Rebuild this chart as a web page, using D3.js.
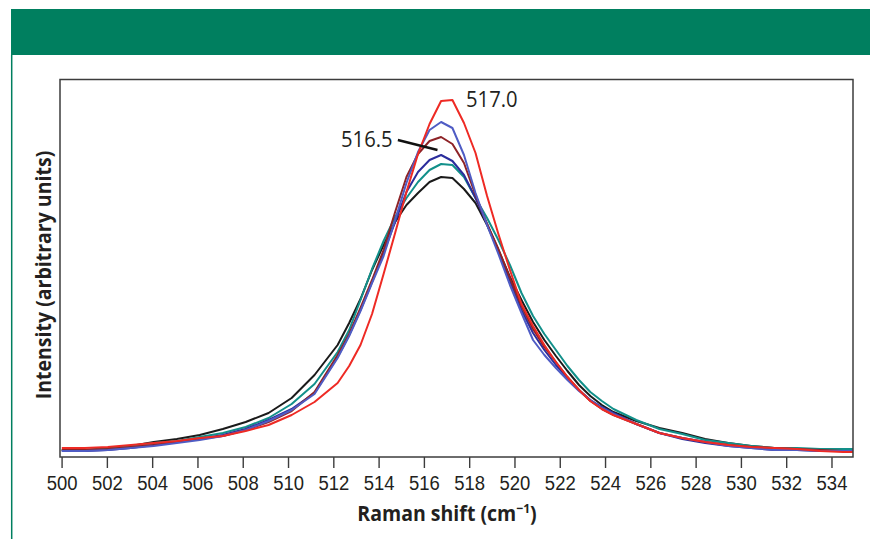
<!DOCTYPE html>
<html>
<head>
<meta charset="utf-8">
<script src="https://cdn.jsdelivr.net/npm/d3@7"></script>
<style>
  body { margin: 0; background: #fff; }
  svg { display: block; font-family: 'Open Sans', 'DejaVu Sans', sans-serif; }
  .tick text { font-size: 21px; fill: #231f20; }
  .tick line { stroke: #3c3c3c; stroke-width: 1.4; }
</style>
</head>
<body>
<svg id="chart" width="870" height="539"></svg>
<script>
// Raman shift (cm-1) sample positions
const shift = [
  500.01, 501.03, 502.04, 503.06, 504.07, 505.09, 506.10, 507.12, 508.13, 509.14,
  510.16, 511.17, 512.19, 512.70, 513.20, 513.71, 514.22, 514.73, 515.23, 515.74,
  516.25, 516.76, 517.26, 517.77, 518.28, 518.79, 519.29, 519.80, 520.31, 520.82,
  521.32, 521.83, 522.34, 522.85, 523.35, 523.86, 524.37, 525.38, 526.40, 527.41,
  528.42, 529.44, 530.45, 531.47, 532.48, 533.50, 534.51, 535.53
]

// intensities, arbitrary units
const blackSeries = [
  7, 7, 9, 11, 15, 18, 22, 28, 35, 44, 59, 82, 112, 134, 158, 187, 212, 235, 252, 264,
  275, 280, 279, 268, 254, 232, 207, 180, 157, 135, 117, 101, 86, 72, 61, 52, 45, 36, 29, 24,
  18, 14, 11, 9, 8, 7, 7, 7
]
const tealSeries = [
  7, 7, 8, 11, 14, 16, 20, 24, 30, 39, 53, 73, 105, 127, 157, 188, 216, 240, 259, 275,
  287, 293, 292, 280, 259, 239, 217, 192, 164, 141, 123, 107, 91, 77, 65, 56, 48, 37, 28, 23,
  17, 14, 11, 9, 9, 8, 8, 8
]
const darkBlueSeries = [
  6, 6, 7, 9, 12, 15, 18, 22, 28, 37, 48, 64, 100, 122, 147, 175, 204, 235, 265, 285,
  297, 302, 296, 282, 259, 233, 206, 176, 147, 124, 107, 92, 79, 67, 57, 50, 44, 33, 24, 18,
  14, 11, 9, 7, 7, 6, 6, 6
]
const brownSeries = [
  7, 7, 8, 10, 12, 15, 18, 21, 27, 35, 46, 65, 102, 123, 149, 177, 207, 245, 280, 303,
  316, 320, 313, 294, 262, 233, 208, 179, 151, 128, 110, 95, 80, 67, 56, 48, 42, 33, 24, 19,
  15, 12, 10, 9, 8, 7, 6, 6
]
const lightBlueSeries = [
  6, 6, 7, 9, 11, 14, 17, 21, 27, 36, 47, 63, 99, 121, 146, 174, 201, 237, 274, 305,
  327, 335, 329, 302, 264, 232, 203, 172, 144, 117, 102, 89, 77, 66, 57, 49, 43, 33, 24, 19,
  15, 11, 9, 7, 7, 6, 6, 6
]
const redSeries = [
  9, 9, 10, 12, 14, 16, 19, 21, 26, 32, 42, 55, 74, 91, 112, 143, 183, 224, 265, 303,
  333, 356, 357, 334, 304, 261, 223, 187, 153, 131, 112, 95, 80, 67, 56, 48, 42, 33, 24, 19,
  15, 12, 10, 9, 8, 6, 5, 5
]

const xTicks = [500, 502, 504, 506, 508, 510, 512, 514, 516, 518, 520, 522, 524, 526, 528, 530, 532, 534]

const series = [
  { values: blackSeries, color: '#1a1a1a' },
  { values: tealSeries, color: '#12908a' },
  { values: darkBlueSeries, color: '#2b2d9c' },
  { values: brownSeries, color: '#8e2327' },
  { values: lightBlueSeries, color: '#4f5cc4' },
  { values: redSeries, color: '#ee2a24' }
]

// peak labels, placed in data space
const peakLabels = [
  { text: '517.0', x: 517.86, y: 350, anchor: 'start' },
  { text: '516.5', x: 514.62, y: 310, anchor: 'end' }
]
const pointer = [[514.85, 317], [516.6, 307]]

const GREEN = '#007f5f'
const svg = d3.select('#chart')

const margin = { top: 79.5, right: 17, bottom: 82, left: 60 }
const width = 870
const height = 539

// header band + side rule
svg.append('rect')
  .attr('x', 11).attr('y', 9)
  .attr('width', width - 11).attr('height', 46)
  .attr('fill', GREEN)
svg.append('line')
  .attr('x1', 11.7).attr('x2', 11.7)
  .attr('y1', 55).attr('y2', height)
  .attr('stroke', GREEN).attr('stroke-width', 1.5)

const x = d3.scaleLinear()
  .domain([499.93, 534.95])
  .range([margin.left, width - margin.right])

const y = d3.scaleLinear()
  .domain([0, 377.5])
  .range([height - margin.bottom, margin.top])

svg.append('clipPath').attr('id', 'plot-clip')
  .append('rect')
  .attr('x', x.range()[0]).attr('y', y.range()[1])
  .attr('width', x.range()[1] - x.range()[0])
  .attr('height', y.range()[0] - y.range()[1])

const line = d3.line()
  .x((d, i) => x(shift[i]))
  .y(d => y(d))

svg.append('g')
  .attr('clip-path', 'url(#plot-clip)')
  .selectAll('path')
  .data(series)
  .enter().append('path')
  .attr('d', d => line(d.values))
  .attr('fill', 'none')
  .attr('stroke', d => d.color)
  .attr('stroke-width', 2)
  .attr('stroke-linejoin', 'round')

// frame
svg.append('rect')
  .attr('x', x.range()[0]).attr('y', y.range()[1])
  .attr('width', x.range()[1] - x.range()[0])
  .attr('height', y.range()[0] - y.range()[1])
  .attr('fill', 'none')
  .attr('stroke', '#3c3c3c')
  .attr('stroke-width', 1.5)

const xAxis = svg.append('g')
  .attr('transform', `translate(0, ${y.range()[0]})`)
  .call(d3.axisBottom(x).tickValues(xTicks).tickSize(11).tickPadding(7).tickFormat(d3.format('d')))
xAxis.select('.domain').remove()
xAxis.selectAll('text')
  .attr('font-family', null).attr('font-size', null)
  .attr('transform', 'scale(0.88,1)')

// the original face is narrower than Open Sans, so squeeze the text a little
const xTitle = svg.append('text')
  .attr('transform', 'translate(447, 521) scale(0.93,1)')
  .attr('text-anchor', 'middle')
  .attr('font-size', 21).attr('font-weight', 700).attr('fill', '#231f20')
  .text('Raman shift (cm')
xTitle.append('tspan').attr('font-size', 13).attr('dy', -8).text('−1')
xTitle.append('tspan').attr('dy', 8).text(')')

svg.append('text')
  .attr('transform', 'translate(51, 275) rotate(-90) scale(0.93,1)')
  .attr('text-anchor', 'middle')
  .attr('font-size', 21).attr('font-weight', 700).attr('fill', '#231f20')
  .text('Intensity (arbitrary units)')

// annotations
svg.selectAll('.peak-label')
  .data(peakLabels)
  .enter().append('text')
  .attr('class', 'peak-label')
  .attr('transform', d => `translate(${x(d.x)}, ${y(d.y)}) scale(0.92,1)`)
  .attr('text-anchor', d => d.anchor)
  .attr('font-size', 22).attr('fill', '#231f20')
  .text(d => d.text)

svg.append('line')
  .attr('x1', x(pointer[0][0])).attr('y1', y(pointer[0][1]))
  .attr('x2', x(pointer[1][0])).attr('y2', y(pointer[1][1]))
  .attr('stroke', '#111').attr('stroke-width', 2.4)
</script>
</body>
</html>
